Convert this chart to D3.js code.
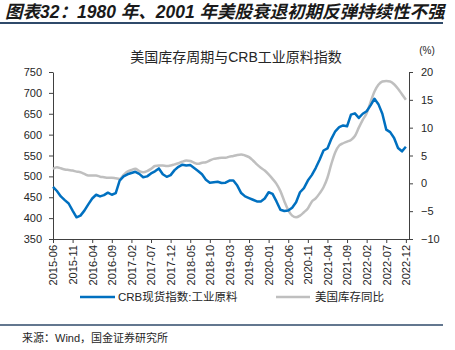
<!DOCTYPE html>
<html><head><meta charset="utf-8">
<script src="https://cdn.jsdelivr.net/npm/d3@7/dist/d3.min.js"></script>
<style>
body{margin:0;background:#fff;}
svg{display:block;}
text{font-family:"Liberation Sans","Noto Sans CJK SC",sans-serif;}
</style></head>
<body>
<svg id="c" width="455" height="350"></svg>
<script>
const headerTitle = "图表32：1980 年、2001 年美股衰退初期反弹持续性不强";
const chartTitle = "美国库存周期与CRB工业原料指数";
const sourceText = "来源：Wind，国金证券研究所";
const seriesNames = ["CRB现货指数:工业原料", "美国库存同比"];
const startMonth = "2015-06";
// monthly values from 2015-06 to 2022-12
const crb = [475,465,452,443,435,418,402,406,418,433,447,456,452,455,461,456,460,490,500,505,508,511,506,498,500,507,512,519,505,499,503,515,523,528,526,527,520,513,505,492,485,486,487,484,485,490,490,478,460,452,448,444,440,440,447,462,458,440,420,417,418,425,438,462,472,490,503,520,540,562,567,590,608,618,622,620,648,651,640,650,656,670,686,673,650,612,606,592,568,560,571];
const invYoY = [2.6,2.9,2.7,2.5,2.4,2.3,2.1,2.0,1.7,1.4,1.4,1.4,1.2,1.1,1.0,1.0,0.9,0.8,1.5,2.1,2.4,2.6,2.2,2.0,2.2,2.6,3.1,3.2,3.2,3.1,3.2,3.4,3.6,3.9,4.1,4.0,3.7,3.5,3.7,3.8,4.1,4.4,4.5,4.6,4.6,4.8,4.9,5.1,5.2,5.0,4.7,4.1,3.4,2.8,2.3,1.6,0.8,-0.1,-1.4,-3.2,-4.8,-5.8,-6.1,-5.8,-5.2,-4.5,-3.3,-2.7,-1.8,-0.7,1.0,3.5,5.6,6.8,7.2,7.5,7.8,8.5,10.0,11.4,12.6,14.6,16.5,17.7,18.3,18.4,18.3,17.8,17.0,16.0,15.0];
const leftTicks = [350,400,450,500,550,600,650,700,750];
const rightTicks = [-10,-5,0,5,10,15,20];
const xTickStep = 5;

const svg = d3.select("#c");
const dark = "#2f4a6a";

// header
svg.append("text").attr("x",5).attr("y",18)
  .attr("font-size",17.5).attr("font-weight","bold").attr("font-style","italic")
  .attr("fill","#1a1a1a").text(headerTitle);
svg.append("line").attr("x1",0).attr("x2",443).attr("y1",23).attr("y2",23)
  .attr("stroke",dark).attr("stroke-width",2);

const L = 53, R = 409, T = 72, B = 239;
const start = d3.timeParse("%Y-%m")(startMonth);
const dates = crb.map((d,i)=>d3.timeMonth.offset(start,i));
const nMonths = crb.length;
const x = d3.scaleLinear().domain([0, nMonths-1+0.8]).range([L,R]);
const yL = d3.scaleLinear().domain([350,750]).range([B,T]);
const yR = d3.scaleLinear().domain([-10,20]).range([B,T]);

svg.append("text").attr("x",(L+R)/2+5).attr("y",62).attr("text-anchor","middle")
  .attr("font-size",14).attr("fill","#262626").text(chartTitle);
svg.append("text").attr("x",427).attr("y",54).attr("text-anchor","middle")
  .attr("font-size",10).attr("fill","#262626").text("(%)");

const fmt = d3.timeFormat("%Y-%m");
const xt = d3.range(0, nMonths, xTickStep);
const gx = svg.append("g").attr("transform",`translate(0,${B})`)
  .call(d3.axisBottom(x).tickValues(xt).tickSize(4).tickSizeOuter(0)
    .tickFormat(i=>fmt(dates[i])));
gx.selectAll("text").attr("transform","rotate(-90)").attr("text-anchor","end")
  .attr("x",-6).attr("y",0).attr("dy","0.35em").attr("font-size",11).attr("fill","#262626");

const gl = svg.append("g").attr("transform",`translate(${L},0)`)
  .call(d3.axisLeft(yL).tickValues(leftTicks).tickSize(4).tickSizeOuter(0).tickPadding(7));
gl.selectAll("text").attr("font-size",11).attr("fill","#262626");
const gr = svg.append("g").attr("transform",`translate(${R},0)`)
  .call(d3.axisRight(yR).tickValues(rightTicks).tickSize(4).tickSizeOuter(0).tickPadding(8));
gr.selectAll("text").attr("font-size",11).attr("fill","#262626");
svg.selectAll(".domain, .tick line").attr("stroke","#404040");

const lineR = d3.line().x((d,i)=>x(i)).y(d=>yR(d)).curve(d3.curveMonotoneX);
const lineL = d3.line().x((d,i)=>x(i)).y(d=>yL(d));
svg.append("path").datum(invYoY).attr("d",lineR).attr("fill","none")
  .attr("stroke","#bfbfbf").attr("stroke-width",2.5);
svg.append("path").datum(crb).attr("d",lineL).attr("fill","none")
  .attr("stroke","#0070c0").attr("stroke-width",2.5).attr("stroke-linejoin","round");

// legend
const ly = 297;
svg.append("line").attr("x1",80).attr("x2",115).attr("y1",ly).attr("y2",ly)
  .attr("stroke","#0070c0").attr("stroke-width",2.5);
svg.append("text").attr("x",118).attr("y",ly).attr("dy","0.35em").attr("font-size",11.5)
  .attr("fill","#262626").text(seriesNames[0]);
svg.append("line").attr("x1",276).attr("x2",310).attr("y1",ly).attr("y2",ly)
  .attr("stroke","#bfbfbf").attr("stroke-width",2.5);
svg.append("text").attr("x",315).attr("y",ly).attr("dy","0.35em").attr("font-size",11.5)
  .attr("fill","#262626").text(seriesNames[1]);

svg.append("line").attr("x1",0).attr("x2",443).attr("y1",325).attr("y2",325)
  .attr("stroke",dark).attr("stroke-width",1.5);
svg.append("text").attr("x",22).attr("y",342).attr("font-size",11)
  .attr("fill","#262626").text(sourceText);
</script>
</body></html>
